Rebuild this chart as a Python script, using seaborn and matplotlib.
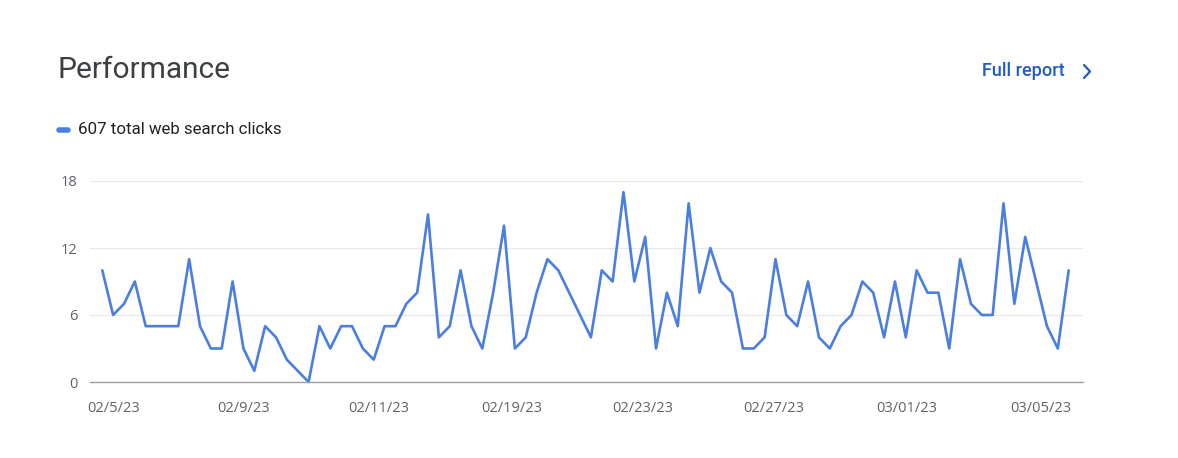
import numpy as np
import pandas as pd
import matplotlib
matplotlib.use("Agg")
import matplotlib.pyplot as plt
from matplotlib.lines import Line2D
import seaborn as sns

# daily web search clicks
clicks = [10, 6, 7, 9, 5, 5, 5, 5, 11, 5, 3, 3, 9, 3, 1, 5, 4, 2, 1, 0,
          5, 3, 5, 5, 3, 2, 5, 5, 7, 8, 15, 4, 5, 10, 5, 3, 8, 14, 3, 4,
          8, 11, 10, 8, 6, 4, 10, 9, 17, 9, 13, 3, 8, 5, 16, 8, 12, 9, 8, 3,
          3, 4, 11, 6, 5, 9, 4, 3, 5, 6, 9, 8, 4, 9, 4, 10, 8, 8, 3, 11,
          7, 6, 6, 16, 7, 13, 9, 5, 3, 10]
tick_labels = ["02/5/23", "02/9/23", "02/11/23", "02/19/23",
               "02/23/23", "02/27/23", "03/01/23", "03/05/23"]
tick_pos = [1, 13, 25.5, 37.7, 49.8, 61.8, 74.1, 86.4]
y_ticks = [0, 6, 12, 18]

line_color = "#4a7ee0"
df = pd.DataFrame({"day": np.arange(len(clicks)), "clicks": clicks})

sns.set_style("white")
plt.rcParams["font.family"] = ["Open Sans", "DejaVu Sans"]

W, H = 1178, 458
fig = plt.figure(figsize=(W / 100, H / 100), dpi=100)
ax = fig.add_axes([90 / W, 1 - 382 / H, (1083 - 90) / W, (382 - 181) / H])

sns.lineplot(data=df, x="day", y="clicks", ax=ax, color=line_color,
             linewidth=1.9, clip_on=False)

ax.set_xlim(-1.13, len(clicks) - 1 + 1.32)
ax.set_ylim(0, 18)
ax.set_yticks(y_ticks)
ax.set_xticks(tick_pos)
ax.set_xticklabels(tick_labels)
ax.set_xlabel("")
ax.set_ylabel("")
ax.tick_params(axis="both", length=0, labelsize=10.5, labelcolor="#5f6368")
ax.tick_params(axis="x", pad=14)
ax.tick_params(axis="y", pad=9)
ax.grid(axis="y", color="#e8e8e8", linewidth=0.9)
ax.set_axisbelow(True)
for side in ["top", "right", "left"]:
    ax.spines[side].set_visible(False)
ax.spines["bottom"].set_color("#9aa0a6")
ax.spines["bottom"].set_linewidth(1)

fig.text(57 / W, 1 - 70 / H, "Performance", fontsize=21.5, color="#3c4043",
         family=["Roboto", "DejaVu Sans"], va="center", ha="left")
fig.text(1065 / W, 1 - 71 / H, "Full report", fontsize=13, color="#1f5bc8",
         family=["Roboto", "DejaVu Sans"], fontweight="medium", va="center", ha="right")
# chevron icon
fig.add_artist(Line2D([1084 / W, 1090 / W, 1084 / W],
                      [1 - 65 / H, 1 - 71.5 / H, 1 - 78 / H],
                      color="#1f5bc8", linewidth=1.6))

fig.add_artist(Line2D([59 / W, 68 / W], [1 - 130 / H, 1 - 130 / H],
                      color=line_color, linewidth=4, solid_capstyle="round"))
fig.text(78 / W, 1 - 130 / H, "607 total web search clicks", fontsize=12.2,
         color="#202124", family=["Roboto", "DejaVu Sans"], va="center", ha="left")

fig.savefig("out.png", dpi=100, facecolor="white")
